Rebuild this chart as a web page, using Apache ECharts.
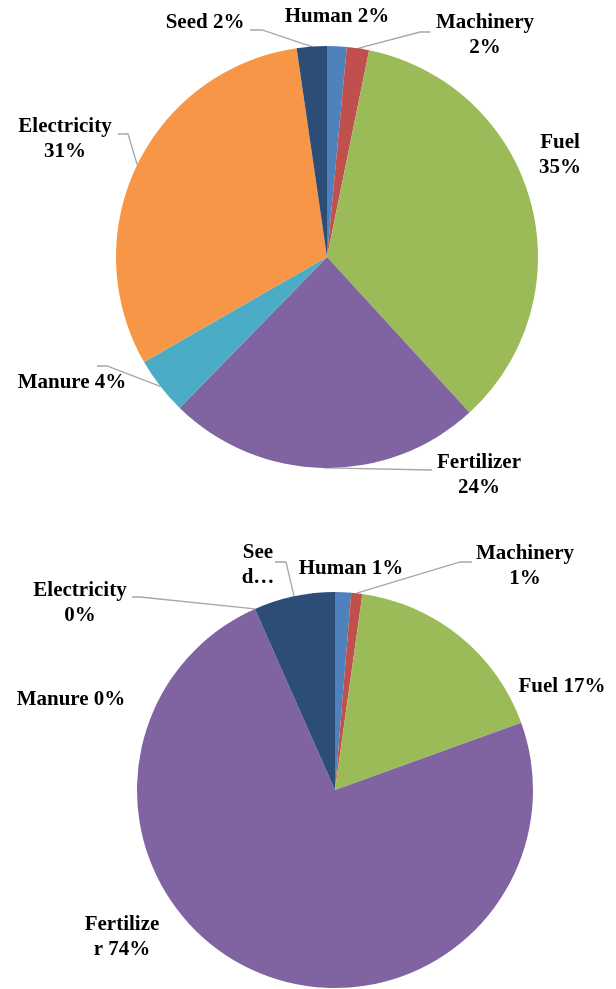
<!DOCTYPE html>
<html>
<head>
<meta charset="utf-8">
<script src="https://cdn.jsdelivr.net/npm/echarts@6/dist/echarts.min.js"></script>
<style>
  html, body { margin: 0; padding: 0; background: #fff; }
  #chart { width: 616px; height: 989px; }
</style>
</head>
<body>
<div id="chart"></div>
<script>
// categories (same order for both pies, clockwise from 12 o'clock)
const categories = ['Human', 'Machinery', 'Fuel', 'Fertilizer', 'Manure', 'Electricity', 'Seed'];
const colors = ['#4f81bd', '#c0504d', '#9bbb59', '#8064a2', '#4bacc6', '#f79646', '#2c4d75'];

// shares in %
const topValues = [1.5, 1.7, 35.0, 24.1, 4.4, 31.0, 2.3];
const bottomValues = [1.3, 0.9, 17.2, 73.6, 0, 0, 6.6];

// label text templates ({n} name, {p} percent)
const topLabelFmt = ['{n} {p}', '{n}\n{p}', '{n}\n{p}', '{n}\n{p}', '{n} {p}', '{n}\n{p}', '{n} {p}'];
const bottomLabelFmt = ['{n} {p}', '{n}\n{p}', '{n} {p}', 'Fertilize\nr {p}', '{n} {p}', '{n}\n{p}', 'See\nd…'];

// label centres and leader line bends: [x, y, bendX, bendY, endX, endY] (null = no line)
const topLabelPos = [
  [337, 17, null],
  [485, 35, 420, 32, 430, 32],
  [560, 155, null],
  [479, 475, 432, 470, 432, 470],
  [72, 383, 107, 366, 97, 366],
  [65, 139, 128, 134, 118, 134],
  [205, 23, 262, 30, 250, 30]
];
const bottomLabelPos = [
  [351, 569, null],
  [525, 566, 460, 562, 472, 562],
  [562, 687, null],
  [122, 937, null],
  [71, 700, null],
  [80, 603, 140, 597, 132, 597],
  [258, 565, 286, 562, 275, 562]
];

const chart = echarts.init(document.getElementById('chart'));

function makeSeries(values, fmt, pos, center, radius) {
  const total = values.reduce((a, b) => a + b, 0);
  return {
    type: 'pie',
    center: center,
    radius: radius,
    startAngle: 90,
    clockwise: true,
    avoidLabelOverlap: false,
    silent: true,
    data: values.map((v, i) => ({
      name: categories[i],
      value: v,
      itemStyle: { color: colors[i] },
      labelLine: { show: pos[i][2] != null }
    })),
    label: {
      show: true,
      formatter: p => fmt[p.dataIndex]
        .replace('{n}', p.name)
        .replace('{p}', Math.round(p.value / total * 100) + '%'),
      fontFamily: '"Liberation Serif", "Times New Roman", serif',
      fontWeight: 'bold',
      fontSize: 21,
      lineHeight: 25,
      color: '#000',
      align: 'center'
    },
    labelLine: {
      show: true,
      lineStyle: { color: '#a6a6a6', width: 1.3 }
    },
    labelLayout: params => {
      const q = pos[params.dataIndex];
      const out = { x: q[0], y: q[1], align: 'center', verticalAlign: 'middle' };
      if (q[2] != null && params.labelLinePoints) {
        out.labelLinePoints = [params.labelLinePoints[0], [q[2], q[3]], [q[4], q[5]]];
      }
      return out;
    }
  };
}

chart.setOption({
  backgroundColor: '#fff',
  animation: false,
  series: [
    makeSeries(topValues, topLabelFmt, topLabelPos, [327, 257], 211),
    makeSeries(bottomValues, bottomLabelFmt, bottomLabelPos, [335, 790], 198)
  ]
});
</script>
</body>
</html>
